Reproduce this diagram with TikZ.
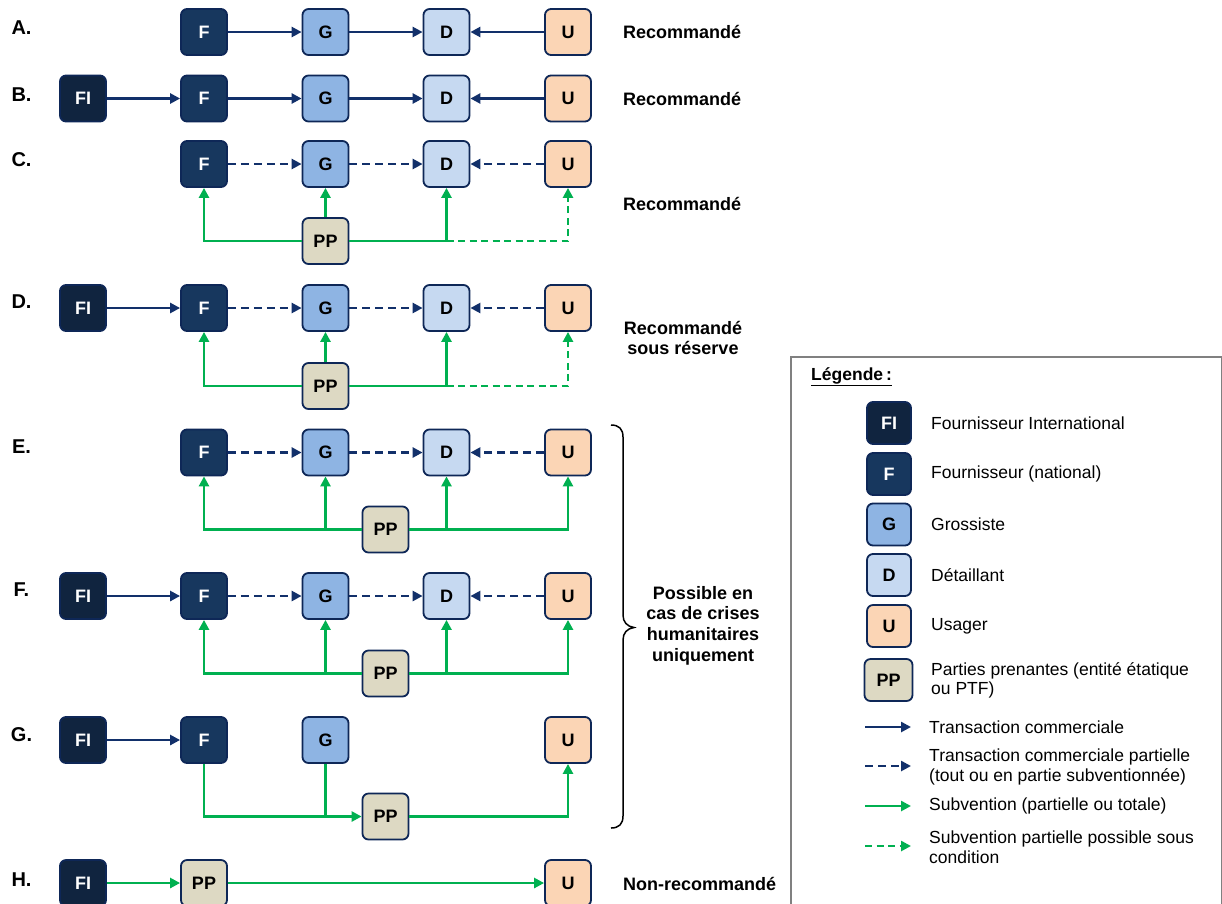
\documentclass[tikz,border=0pt]{standalone}
\usepackage{fontspec}
\setmainfont{Liberation Sans}
\usetikzlibrary{arrows.meta}
\definecolor{navy}{HTML}{12306A}
\definecolor{bnavy}{HTML}{0E2757}
\definecolor{cFI}{HTML}{10243F}
\definecolor{cF}{HTML}{17375E}
\definecolor{cG}{HTML}{8EB4E3}
\definecolor{cD}{HTML}{C6D9F1}
\definecolor{cU}{HTML}{FBD5B5}
\definecolor{cPP}{HTML}{DDD9C3}
\definecolor{grn}{HTML}{00B050}
\definecolor{lgray}{HTML}{808080}
\begin{document}
\begin{tikzpicture}[x=1pt,y=-1pt,
 box/.style={draw=bnavy,line width=1.8pt,rounded corners=6pt,minimum width=46pt,minimum height=46pt,inner sep=0pt,font=\bfseries\fontsize{18}{20}\selectfont},
 fi/.style={box,fill=cFI,text=white},
 fn/.style={box,fill=cF,text=white},
 gr/.style={box,fill=cG},
 de/.style={box,fill=cD},
 us/.style={box,fill=cU},
 pp/.style={box,fill=cPP},
 lbox/.style={minimum width=44pt,minimum height=42pt},
 tr/.style={draw=navy,line width=2.9pt,-{Triangle[length=10pt,width=10pt]}},
 trd/.style={tr,dash pattern=on 8pt off 5pt},
 sub/.style={draw=grn,line width=2.9pt,-{Triangle[length=10pt,width=10pt]}},
 subd/.style={sub,dash pattern=on 7pt off 4.5pt},
 subl/.style={draw=grn,line width=2.9pt},
 rowlab/.style={font=\bfseries\fontsize{20}{22}\selectfont,inner sep=0pt},
 rlab/.style={font=\bfseries\fontsize{18}{20.7}\selectfont,inner sep=0pt},
 legtxt/.style={font=\fontsize{17.5}{19.5}\selectfont,anchor=west,align=left,inner sep=0pt}
]
\useasboundingbox (0,0) rectangle (1222,903);
\fill[white] (0,0) rectangle (1222,903);

% row labels
\node[rowlab] (la) at (21.5,28) {A.};
\node[rowlab] (lb) at (21.5,95) {B.};
\node[rowlab] (lc) at (21.5,160) {C.};
\node[rowlab] (ld) at (21.5,302) {D.};
\node[rowlab] (le) at (21.5,447) {E.};
\node[rowlab] (lf) at (21.5,590) {F.};
\node[rowlab] (lg) at (21.5,735) {G.};
\node[rowlab] (lh) at (21.5,880) {H.};

% Row A
\node[fn] (aF) at (204,32) {F};
\node[gr] (aG) at (325.5,32) {G};
\node[de] (aD) at (446.5,32) {D};
\node[us] (aU) at (568,32) {U};
\draw[tr] (aF) -- (aG);
\draw[tr] (aG) -- (aD);
\draw[tr] (aU) -- (aD);

% Row B
\node[fi] (bFI) at (83,98.5) {FI};
\node[fn] (bF) at (204,98.5) {F};
\node[gr] (bG) at (325.5,98.5) {G};
\node[de] (bD) at (446.5,98.5) {D};
\node[us] (bU) at (568,98.5) {U};
\draw[tr] (bFI) -- (bF);
\draw[tr] (bF) -- (bG);
\draw[tr] (bG) -- (bD);
\draw[tr] (bU) -- (bD);

% Row C
\node[fn] (cF) at (204,164) {F};
\node[gr] (cG) at (325.5,164) {G};
\node[de] (cD) at (446.5,164) {D};
\node[us] (cU) at (568,164) {U};
\node[pp] (cPP) at (325.5,241) {PP};
\draw[trd] (cF) -- (cG);
\draw[trd] (cG) -- (cD);
\draw[trd] (cU) -- (cD);
\coordinate (cJ) at (cD.south |- cPP.east);
\draw[subd] (cJ) -| (cU.south);
\draw[sub] (cPP.west) -| (cF.south);
\draw[sub] (cPP.north) -- (cG.south);
\draw[sub] (cPP.east) -| (cD.south);

% Row D
\node[fi] (dFI) at (83,308) {FI};
\node[fn] (dF) at (204,308) {F};
\node[gr] (dG) at (325.5,308) {G};
\node[de] (dD) at (446.5,308) {D};
\node[us] (dU) at (568,308) {U};
\node[pp] (dPP) at (325.5,386) {PP};
\draw[tr] (dFI) -- (dF);
\draw[trd] (dF) -- (dG);
\draw[trd] (dG) -- (dD);
\draw[trd] (dU) -- (dD);
\coordinate (dJ) at (dD.south |- dPP.east);
\draw[subd] (dJ) -| (dU.south);
\draw[sub] (dPP.west) -| (dF.south);
\draw[sub] (dPP.north) -- (dG.south);
\draw[sub] (dPP.east) -| (dD.south);

% Row E
\node[fn] (eF) at (204,452.5) {F};
\node[gr] (eG) at (325.5,452.5) {G};
\node[de] (eD) at (446.5,452.5) {D};
\node[us] (eU) at (568,452.5) {U};
\node[pp] (ePP) at (385.5,529.5) {PP};
\draw[trd] (eF) -- (eG);
\draw[trd] (eG) -- (eD);
\draw[trd] (eU) -- (eD);
\coordinate (eJg) at (eG.south |- ePP.west);
\coordinate (eJd) at (eD.south |- ePP.east);
\draw[sub] (ePP.west) -| (eF.south);
\draw[sub] (ePP.east) -| (eU.south);
\draw[sub] (eJg) -- (eG.south);
\draw[sub] (eJd) -- (eD.south);

% Row F
\node[fi] (fFI) at (83,596) {FI};
\node[fn] (fF) at (204,596) {F};
\node[gr] (fG) at (325.5,596) {G};
\node[de] (fD) at (446.5,596) {D};
\node[us] (fU) at (568,596) {U};
\node[pp] (fPP) at (385.5,673.5) {PP};
\draw[tr] (fFI) -- (fF);
\draw[trd] (fF) -- (fG);
\draw[trd] (fG) -- (fD);
\draw[trd] (fU) -- (fD);
\coordinate (fJg) at (fG.south |- fPP.west);
\coordinate (fJd) at (fD.south |- fPP.east);
\draw[sub] (fPP.west) -| (fF.south);
\draw[sub] (fPP.east) -| (fU.south);
\draw[sub] (fJg) -- (fG.south);
\draw[sub] (fJd) -- (fD.south);

% Row G
\node[fi] (gFI) at (83,740) {FI};
\node[fn] (gF) at (204,740) {F};
\node[gr] (gG) at (325.5,740) {G};
\node[us] (gU) at (568,740) {U};
\node[pp] (gPP) at (385.5,816.5) {PP};
\draw[tr] (gFI) -- (gF);
\coordinate (gJ) at (gG.south |- gPP.west);
\draw[subl] (gG.south) -- (gJ);
\draw[sub] (gF.south) |- (gPP.west);
\draw[sub] (gPP.east) -| (gU.south);

% Row H
\node[fi] (hFI) at (83,883) {FI};
\node[pp] (hPP) at (204,883) {PP};
\node[us] (hU) at (568,883) {U};
\draw[sub] (hFI) -- (hPP);
\draw[sub] (hPP) -- (hU);

% right labels
\node[rlab,anchor=west] (ra) at (623,32) {Recommandé};
\node[rlab,anchor=west] (rb) at (623,99) {Recommandé};
\node[rlab,anchor=west] (rc) at (623,204) {Recommandé};
\node[rlab,align=center] (rd) at (683,338) {Recommandé\\sous réserve};
\node[rlab,align=center] (re) at (703,625.5) {Possible en\\cas de crises\\humanitaires\\uniquement};
\node[rlab,anchor=west] (rh) at (623,884) {Non-recommandé};

% brace
\draw[black,line width=1.5pt] (611,425) .. controls (619,425) and (623,429) .. (623,437) -- (623,615) .. controls (623,622) and (627,626.5) .. (634,627.5) .. controls (627,628.5) and (623,633) .. (623,640) -- (623,816) .. controls (623,824) and (619,828) .. (611,828);

% legend
\draw[lgray,line width=1.5pt] (791,357) rectangle (1221.5,915);
\node[anchor=west,inner sep=0pt,font=\bfseries\fontsize{17.5}{20}\selectfont] (lt) at (811,377) {\underline{Légende\,:}};
\node[fi,lbox] (kFI) at (889,423) {FI};
\node[fn,lbox] (kF) at (889,474) {F};
\node[gr,lbox] (kG) at (889,524.5) {G};
\node[de,lbox] (kD) at (889,575) {D};
\node[us,lbox] (kU) at (889,626) {U};
\node[pp,lbox,minimum width=48pt] (kPP) at (888.5,680) {PP};
\node[legtxt] (tFI) at (931,423) {Fournisseur International};
\node[legtxt] (tF) at (931,474) {Fournisseur (national)};
\node[legtxt] (tG) at (931,524.5) {Grossiste};
\node[legtxt] (tD) at (931,575) {Détaillant};
\node[legtxt] (tU) at (931,626) {Usager};
\node[legtxt] (tPP) at (931,680.5) {Parties prenantes (entité étatique\\ou PTF)};
\coordinate (k1a) at (865,727); \coordinate (k1b) at (911,727);
\coordinate (k2a) at (865,766); \coordinate (k2b) at (911,766);
\coordinate (k3a) at (865,806); \coordinate (k3b) at (911,806);
\coordinate (k4a) at (865,846); \coordinate (k4b) at (911,846);
\draw[tr] (k1a) -- (k1b);
\draw[trd] (k2a) -- (k2b);
\draw[sub] (k3a) -- (k3b);
\draw[subd] (k4a) -- (k4b);
\node[legtxt] (t1) at (929,727) {Transaction commerciale};
\node[legtxt] (t2) at (929,767) {Transaction commerciale partielle\\(tout ou en partie subventionnée)};
\node[legtxt] (t3) at (929,806) {Subvention (partielle ou totale)};
\node[legtxt] (t4) at (929,847) {Subvention partielle possible sous\\condition};
\end{tikzpicture}
\end{document}
